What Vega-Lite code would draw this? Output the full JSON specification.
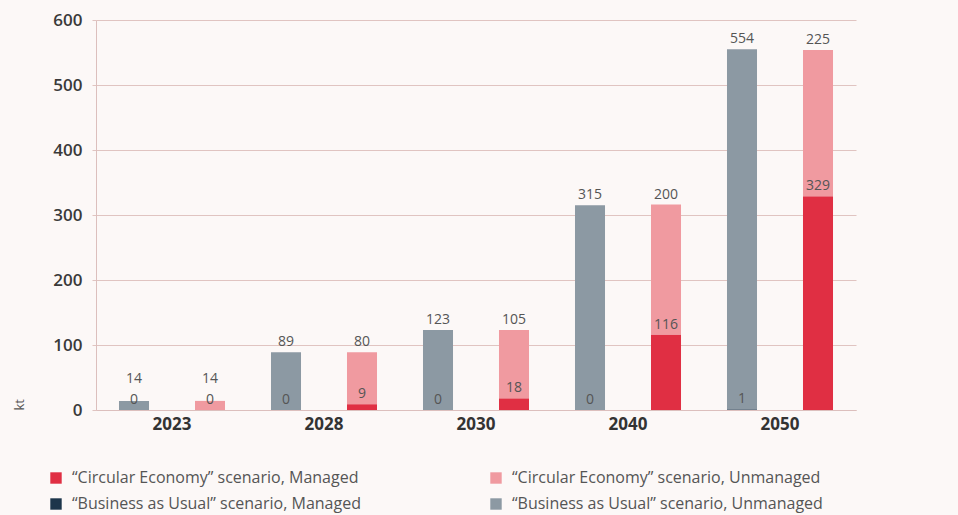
{
  "$schema": "https://vega.github.io/schema/vega-lite/v6.json",
  "width": 760,
  "height": 390,
  "autosize": {"type": "none"},
  "padding": {"left": 96, "top": 20, "right": 102, "bottom": 105},
  "background": "#fcf8f7",
  "config": {"view": {"stroke": null}},
  "data": {
    "values": [
      {"year": "2023", "scenario": "BAU", "type": "Managed", "category": "“Business as Usual” scenario, Managed", "value": 0},
      {"year": "2023", "scenario": "BAU", "type": "Unmanaged", "category": "“Business as Usual” scenario, Unmanaged", "value": 14},
      {"year": "2023", "scenario": "CE", "type": "Managed", "category": "“Circular Economy” scenario, Managed", "value": 0},
      {"year": "2023", "scenario": "CE", "type": "Unmanaged", "category": "“Circular Economy” scenario, Unmanaged", "value": 14},
      {"year": "2028", "scenario": "BAU", "type": "Managed", "category": "“Business as Usual” scenario, Managed", "value": 0},
      {"year": "2028", "scenario": "BAU", "type": "Unmanaged", "category": "“Business as Usual” scenario, Unmanaged", "value": 89},
      {"year": "2028", "scenario": "CE", "type": "Managed", "category": "“Circular Economy” scenario, Managed", "value": 9},
      {"year": "2028", "scenario": "CE", "type": "Unmanaged", "category": "“Circular Economy” scenario, Unmanaged", "value": 80},
      {"year": "2030", "scenario": "BAU", "type": "Managed", "category": "“Business as Usual” scenario, Managed", "value": 0},
      {"year": "2030", "scenario": "BAU", "type": "Unmanaged", "category": "“Business as Usual” scenario, Unmanaged", "value": 123},
      {"year": "2030", "scenario": "CE", "type": "Managed", "category": "“Circular Economy” scenario, Managed", "value": 18},
      {"year": "2030", "scenario": "CE", "type": "Unmanaged", "category": "“Circular Economy” scenario, Unmanaged", "value": 105},
      {"year": "2040", "scenario": "BAU", "type": "Managed", "category": "“Business as Usual” scenario, Managed", "value": 0},
      {"year": "2040", "scenario": "BAU", "type": "Unmanaged", "category": "“Business as Usual” scenario, Unmanaged", "value": 315},
      {"year": "2040", "scenario": "CE", "type": "Managed", "category": "“Circular Economy” scenario, Managed", "value": 116},
      {"year": "2040", "scenario": "CE", "type": "Unmanaged", "category": "“Circular Economy” scenario, Unmanaged", "value": 200},
      {"year": "2050", "scenario": "BAU", "type": "Managed", "category": "“Business as Usual” scenario, Managed", "value": 1},
      {"year": "2050", "scenario": "BAU", "type": "Unmanaged", "category": "“Business as Usual” scenario, Unmanaged", "value": 554},
      {"year": "2050", "scenario": "CE", "type": "Managed", "category": "“Circular Economy” scenario, Managed", "value": 329},
      {"year": "2050", "scenario": "CE", "type": "Unmanaged", "category": "“Circular Economy” scenario, Unmanaged", "value": 225}
    ]
  },
  "transform": [
    {"stack": "value", "groupby": ["year", "scenario"], "sort": [{"field": "type", "order": "ascending"}], "as": ["v0", "v1"]}
  ],
  "encoding": {
    "x": {
      "field": "year", "type": "nominal",
      "scale": {"paddingInner": 0, "paddingOuter": 0},
      "axis": {
        "title": null, "labelAngle": 0, "labelFont": "Open Sans", "labelFontSize": 17, "labelFontWeight": "bold",
        "labelColor": "#333333", "labelPadding": 6, "ticks": false, "domainColor": "#dcbfbd", "domainWidth": 1
      }
    },
    "xOffset": {
      "field": "scenario", "type": "nominal",
      "scale": {"domain": ["BAU", "CE"], "paddingInner": 0.605, "paddingOuter": 0.3025}
    }
  },
  "layer": [
    {
      "mark": {"type": "bar"},
      "encoding": {
        "y": {
          "field": "v0", "type": "quantitative",
          "scale": {"domain": [0, 600], "nice": false},
          "axis": {
            "title": "kt", "titleFont": "Open Sans", "titleFontSize": 13, "titleFontWeight": "normal", "titleColor": "#555555",
            "titleAnchor": "start", "titlePadding": 26,
            "values": [0, 100, 200, 300, 400, 500, 600],
            "labelFont": "Open Sans", "labelFontSize": 17, "labelFontWeight": 600, "labelColor": "#3a3a3a", "labelPadding": 10,
            "gridColor": "#e0c4c1", "gridWidth": 1, "tickColor": "#e0c4c1", "tickSize": 4,
            "domainColor": "#dcbfbd"
          }
        },
        "y2": {"field": "v1"},
        "color": {
          "field": "category", "type": "nominal",
          "scale": {
            "domain": ["“Circular Economy” scenario, Managed", "“Circular Economy” scenario, Unmanaged", "“Business as Usual” scenario, Managed", "“Business as Usual” scenario, Unmanaged"],
            "range": ["#e02f43", "#f09aa0", "#1d354b", "#8c99a3"]
          },
          "legend": {
            "title": null, "orient": "none", "direction": "horizontal", "legendX": -48, "legendY": 450, "columns": 2, "columnPadding": 127, "rowPadding": 10,
            "symbolType": "square", "symbolSize": 130, "symbolStrokeWidth": 0, "symbolOpacity": 1,
            "labelFont": "Open Sans", "labelFontSize": 16, "labelColor": "#555555", "labelLimit": 600, "labelOffset": 8
          }
        }
      }
    },
    {
      "transform": [{"filter": "datum.type == 'Managed' || datum.v1 >= 30"}],
      "mark": {"type": "text", "baseline": "bottom", "dy": -3, "font": "Open Sans", "fontSize": 14, "color": "#555555"},
      "encoding": {
        "y": {"field": "v1", "type": "quantitative"},
        "text": {"field": "value", "type": "quantitative"}
      }
    },
    {
      "transform": [{"filter": "datum.type == 'Unmanaged' && datum.v1 < 30"}],
      "mark": {"type": "text", "baseline": "bottom", "dy": -15, "font": "Open Sans", "fontSize": 14, "color": "#555555"},
      "encoding": {
        "y": {"field": "v1", "type": "quantitative"},
        "text": {"field": "value", "type": "quantitative"}
      }
    }
  ]
}
